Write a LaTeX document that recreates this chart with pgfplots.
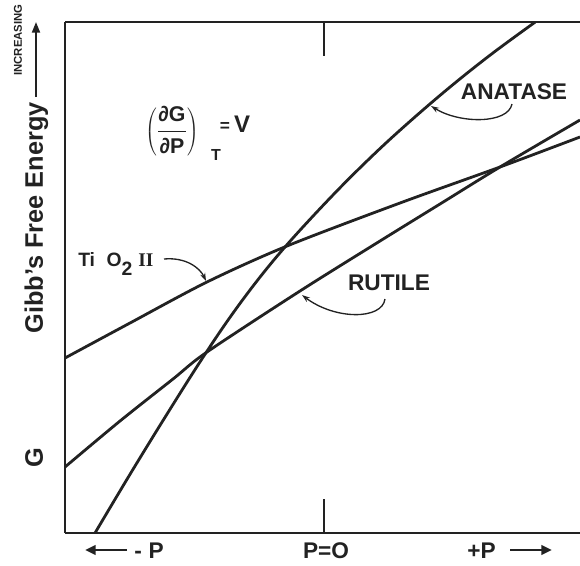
\documentclass[border=0pt]{standalone}
\usepackage{fontspec}
\setmainfont{Liberation Sans}
\newfontfamily\seriffont{Liberation Serif}
\usepackage{pgfplots}
\pgfplotsset{compat=1.18}
\usetikzlibrary{arrows.meta}
\definecolor{ink}{HTML}{222222}
\begin{document}
\begin{tikzpicture}
\begin{axis}[
  scale only axis, width=386.25pt, height=383.25pt,
  xmin=65, xmax=580, ymin=22, ymax=533, y dir=reverse,
  axis x line=box, axis y line=left,
  every outer y axis line/.append style={-},
  y axis line style={-},
  axis line style={line width=1.5pt, ink},
  ytick=\empty, xtick={324}, xticklabels={},
  major tick length=25.5pt, tick align=inside,
  tick style={line width=1.5pt, ink},
  clip=false,
]
% Anatase
\addplot[line width=2.1pt, ink, smooth, tension=0.6] coordinates {
 (95,533) (130,474.3) (165,417.3) (200,361.9) (230,317.3) (260,277.1) (290,241.3)
 (330,198.1) (365,162.9) (400,130.2) (445,91.2) (490,55.2) (535,22.2)};
% TiO2 II
\addplot[line width=2.1pt, ink, smooth, tension=0.5] coordinates {
 (65,358) (130,323) (207,282) (287,246) (400,203) (500,167) (580,137)};
% Rutile
\addplot[line width=2.1pt, ink, smooth, tension=0.5] coordinates {
 (65,467) (120,421) (173,379) (207,352) (300,291) (380,241) (440,204) (500,167) (580,120)};

% labels on curves
\node[font=\bfseries\fontsize{17}{20}\selectfont, ink] at (axis cs:514,92) {ANATASE};
\draw[line width=1pt, ink, -{Stealth[length=6pt,width=4pt]}] (axis cs:512,104) .. controls (axis cs:508,124) and (axis cs:460,124) .. (axis cs:431,106);
\node[font=\bfseries\fontsize{17}{20}\selectfont, ink] at (axis cs:389,283) {RUTILE};
\draw[line width=1pt, ink, -{Stealth[length=6pt,width=4pt]}] (axis cs:385,299) .. controls (axis cs:382,320) and (axis cs:335,320) .. (axis cs:302,295);
\node[anchor=base west, font=\bfseries\fontsize{14.5}{17}\selectfont, ink, inner sep=0pt] at (axis cs:78,266) {Ti\hspace{0.6em}O\raisebox{-0.5em}{2}\hspace{0.3em}{\seriffont\bfseries II}};
\draw[line width=1pt, ink, -{Stealth[length=6pt,width=4pt]}] (axis cs:164,259) .. controls (axis cs:186,257) and (axis cs:200,268) .. (axis cs:206,281);

% formula
\node[font=\bfseries\fontsize{16}{18}\selectfont, ink] at (axis cs:172,131) {$\displaystyle\left(\frac{\mbox{∂G}}{\mbox{∂P}}\right)$};
\node[font=\bfseries\fontsize{12}{13}\selectfont, ink] at (axis cs:216,155) {T};
\node[font=\bfseries\fontsize{13}{14}\selectfont, ink] at (axis cs:225,127) {=};
\node[font=\bfseries\fontsize{18}{20}\selectfont, ink] at (axis cs:242,124) {V};

% y label
\node[rotate=90, anchor=base, font=\bfseries\fontsize{19}{22}\selectfont, ink] at (axis cs:43,218) {Gibb's Free Energy};
\node[rotate=90, anchor=base, font=\bfseries\fontsize{19}{22}\selectfont, ink] at (axis cs:43,458) {G};
\node[rotate=90, anchor=base, font=\bfseries\fontsize{8.5}{10}\selectfont, ink] at (axis cs:22,40) {INCREASING};
\draw[line width=1.5pt, ink, -{Triangle[length=8pt,width=6pt]}] (axis cs:36,97) -- (axis cs:36,22);

% x labels
\draw[line width=2pt, ink, -{Triangle[length=8pt,width=7pt]}] (axis cs:127,550) -- (axis cs:85,550);
\node[anchor=base west, inner sep=0pt, font=\bfseries\fontsize{17}{20}\selectfont, ink] at (axis cs:134,558) {-\hspace{0.3em}P};
\node[anchor=base, inner sep=0pt, font=\bfseries\fontsize{17}{20}\selectfont, ink] at (axis cs:326,558) {P=O};
\node[anchor=base west, inner sep=0pt, font=\bfseries\fontsize{17}{20}\selectfont, ink] at (axis cs:467,558) {+P};
\draw[line width=2pt, ink, -{Triangle[length=8pt,width=7pt]}] (axis cs:510,550) -- (axis cs:552,550);

\coordinate (TL) at (axis cs:0,0);
\coordinate (BR) at (axis cs:580,565);
\end{axis}
\pgfresetboundingbox
\path[use as bounding box] (TL) rectangle (BR);
\end{tikzpicture}
\end{document}
